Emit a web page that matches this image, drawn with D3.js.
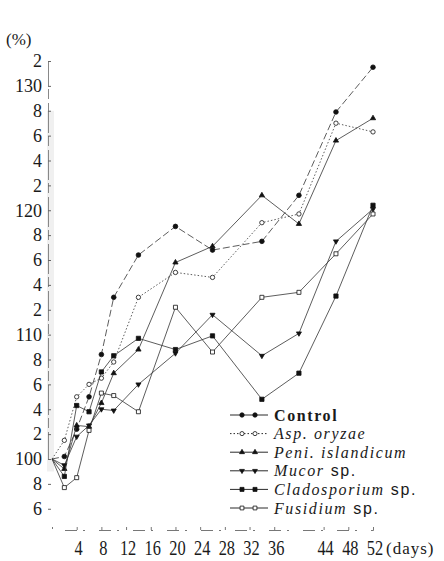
<!DOCTYPE html>
<html>
<head>
<meta charset="utf-8">
<script src="https://cdn.jsdelivr.net/npm/d3@7"></script>
<style>
  body { margin: 0; background: #fff; }
  text { font-family: "Liberation Serif", "DejaVu Serif", serif; fill: #1a1a1a; }
</style>
</head>
<body>
<script>
'use strict';

// sampling days and % values
var days = [0, 2, 4, 6, 8, 10, 14, 20, 26, 34, 40, 46, 52];
var control = [100, 100.2, 102.4, 105.0, 108.4, 113.0, 116.4, 118.7, 116.8, 117.5, 121.2, 127.9, 131.5];
var asp     = [100, 101.5, 105.0, 106.0, 106.5, 107.8, 113.0, 115.0, 114.6, 119.0, 119.7, 127.0, 126.3];
var peni    = [100, 99.2, 102.7, 102.6, 104.5, 106.9, 108.8, 115.8, 117.1, 121.2, 118.9, 125.6, 127.4];
var mucor   = [100, 99.5, 101.8, 102.7, 104.0, 103.9, 106.0, 108.5, 111.6, 108.3, 110.1, 117.5, 120.1];
var clado   = [100, 98.6, 104.3, 103.8, 107.0, 108.3, 109.7, 108.8, 109.9, 104.8, 106.9, 113.1, 120.4];
var fus     = [100, 97.7, 98.5, 102.3, 105.3, 105.1, 103.8, 112.2, 108.6, 113.0, 113.4, 116.5, 119.7];

var xTicks = [4, 8, 12, 16, 20, 24, 28, 32, 36, 44, 48, 52];
var yTicks = d3.range(96, 133, 2);

var width = 444;
var height = 561;

var x = d3.scaleLinear().domain([0, 52]).range([52, 373]);
var y = d3.scaleLinear().domain([100, 132]).range([459, 61]);

var svg = d3.select('body')
    .append('svg')
    .attr('width', width)
    .attr('height', height)
    ;

// y axis (faded scan look)
svg.append('rect')
    .attr('x', 47).attr('y', y(128))
    .attr('width', 7).attr('height', y(99) - y(128))
    .attr('fill', '#e6e6e6')
    .attr('opacity', 0.6)
    ;

var yAxis = svg.append('g')
    .attr('transform', 'translate(48,0)')
    .call(d3.axisRight(y).tickValues(yTicks).tickSize(3).tickFormat(''))
    ;
yAxis.select('.domain').attr('stroke', '#888').attr('stroke-dasharray', '30,4,10,3');
yAxis.selectAll('.tick line').attr('stroke', '#666');

svg.append('g')
    .selectAll('text')
    .data(yTicks)
    .enter()
    .append('text')
    .attr('x', 42)
    .attr('y', y)
    .attr('dy', '0.35em')
    .attr('text-anchor', 'end')
    .attr('font-size', 18)
    .text(function (d) { return d % 10 === 0 ? d : d % 10; })
    ;

svg.append('text')
    .attr('x', 6).attr('y', 45)
    .attr('font-size', 17)
    .text('(%)')
    ;

// x axis (broken line)
var xAxis = svg.append('g')
    .attr('transform', 'translate(0,530)')
    .call(d3.axisTop(x).tickValues(xTicks).tickSize(3).tickFormat(''))
    ;
xAxis.select('.domain').attr('stroke', '#777').attr('stroke-dasharray', '2,14,12,6');
xAxis.selectAll('.tick line').attr('stroke', '#777');

svg.append('g')
    .selectAll('text')
    .data(xTicks)
    .enter()
    .append('text')
    .attr('transform', function (d) { return 'translate(' + (x(d) + 2) + ',555) scale(0.82,1)'; })
    .attr('text-anchor', 'middle')
    .attr('font-size', 20)
    .text(String)
    ;

svg.append('text')
    .attr('x', 386).attr('y', 554)
    .attr('font-size', 17)
    .attr('letter-spacing', 1)
    .text('(days)')
    ;

// series; area = d3.symbol size
var series = [
    { name: 'Control', values: control, marker: 'circle', fill: '#111', dash: '7,3', area: 17 },
    { name: 'Asp. oryzae', values: asp, marker: 'circle', fill: '#fff', dash: '1.5,2', area: 15 },
    { name: 'Peni. islandicum', values: peni, marker: 'triangle', fill: '#111', dash: null, area: 12 },
    { name: 'Mucor', values: mucor, marker: 'tri-down', fill: '#111', dash: null, area: 11 },
    { name: 'Cladosporium', values: clado, marker: 'square', fill: '#111', dash: null, area: 18 },
    { name: 'Fusidium', values: fus, marker: 'square', fill: '#fff', dash: null, area: 16 }
];

var symbolType = {
    circle: d3.symbolCircle,
    triangle: d3.symbolTriangle,
    'tri-down': d3.symbolTriangle,
    square: d3.symbolSquare
};

function marker(sel, s, k) {
    sel.attr('d', d3.symbol().type(symbolType[s.marker]).size(s.area * (k || 1)))
        .attr('fill', s.fill)
        .attr('stroke', '#111')
        .attr('stroke-width', 0.8)
        ;
}

var line = d3.line()
    .x(function (d) { return x(d[0]); })
    .y(function (d) { return y(d[1]); })
    ;

series.forEach(function (s) {
    var pts = d3.zip(days, s.values);
    svg.append('path')
        .attr('d', line(pts))
        .attr('fill', 'none')
        .attr('stroke', '#333')
        .attr('stroke-width', 0.8)
        .attr('stroke-dasharray', s.dash)
        ;
    svg.append('g')
        .selectAll('path')
        .data(pts.slice(1))
        .enter()
        .append('path')
        .attr('transform', function (d) {
            return 'translate(' + x(d[0]) + ',' + y(d[1]) + ')' + (s.marker === 'tri-down' ? ' rotate(180)' : '');
        })
        .call(marker, s)
        ;
});

// legend
var legendRows = [
    { s: series[0], parts: [['Control', 'normal']] },
    { s: series[1], parts: [['Asp. oryzae', 'italic']] },
    { s: series[2], parts: [['Peni. islandicum', 'italic']] },
    { s: series[3], parts: [['Mucor', 'italic'], [' sp.', 'normal']] },
    { s: series[4], parts: [['Cladosporium', 'italic'], [' sp.', 'normal']] },
    { s: series[5], parts: [['Fusidium', 'italic'], [' sp.', 'normal']] }
];

var legend = svg.append('g')
    .selectAll('g')
    .data(legendRows)
    .enter()
    .append('g')
    .attr('transform', function (d, i) { return 'translate(0,' + (415 + i * 18.6) + ')'; })
    ;

legend.append('line')
    .attr('x1', 230).attr('x2', 268)
    .attr('stroke', '#2a2a2a')
    .attr('stroke-width', 1)
    .attr('stroke-dasharray', function (d) { return d.s.dash === '1.5,2' ? d.s.dash : null; })
    ;

legend.each(function (d) {
    var g = d3.select(this);
    [242, 255].forEach(function (cx) {
        g.append('path')
            .attr('transform', 'translate(' + cx + ',0)' + (d.s.marker === 'tri-down' ? ' rotate(180)' : ''))
            .call(marker, d.s, 0.9);
    });
    var t = g.append('text')
        .attr('x', 274)
        .attr('dy', '0.35em')
        .attr('font-size', 16)
        .attr('letter-spacing', 1.6)
        ;
    d.parts.forEach(function (p) {
        t.append('tspan')
            .attr('font-style', p[1])
            .attr('font-family', p[1] === 'normal' && p[0] !== 'Control' ? '"Liberation Sans", sans-serif' : null)
            .attr('font-weight', p[0] === 'Control' ? 'bold' : null)
            .text(p[0]);
    });
});
</script>
</body>
</html>
